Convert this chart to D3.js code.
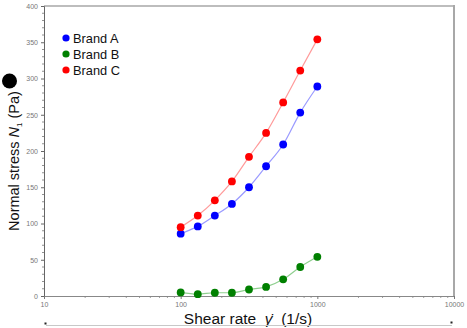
<!DOCTYPE html>
<html>
<head>
<meta charset="utf-8">
<script src="https://cdn.jsdelivr.net/npm/d3@7"></script>
<style>
  html, body { margin: 0; padding: 0; background: #fff; }
  svg { display: block; font-family: "Liberation Sans", Arial, sans-serif; }
</style>
</head>
<body>
<svg id="chart" width="467" height="328"></svg>
<script>
// Shear rate sweep (1/s), log-spaced, and first normal stress difference (Pa)
const shearRate = [100, 133.4, 177.8, 237.1, 316.2, 421.7, 562.3, 749.9, 1000];
const brandA = [86, 96, 111, 127, 150, 179, 209, 253, 289];
const brandB = [5, 2.5, 4.5, 4.5, 9, 12.5, 23, 40, 54];
const brandC = [95, 111, 132, 158, 192, 225, 267, 311, 354];
const seriesNames = ["Brand A", "Brand B", "Brand C"];
const seriesColors = ["#0000ff", "#008000", "#ff0000"];
const lineColors = ["#9a9aff", "#8fcf8f", "#ff9a9a"];
const xTicks = [10, 100, 1000, 10000];
const yTicks = [0, 50, 100, 150, 200, 250, 300, 350, 400];

const svg = d3.select("#chart");
const plotLeft = 44, plotRight = 454, plotTop = 6, plotBottom = 296;

const x = d3.scaleLog().domain([10, 10000]).range([plotLeft, plotRight]);
const y = d3.scaleLinear().domain([0, 400]).range([plotBottom, plotTop]);

// frame: top and right borders
svg.append("line").attr("x1", plotLeft).attr("x2", plotRight).attr("y1", plotTop).attr("y2", plotTop)
  .attr("stroke", "#bdbdbd").attr("stroke-width", 2);
svg.append("line").attr("x1", plotRight).attr("x2", plotRight).attr("y1", plotTop - 1).attr("y2", plotBottom)
  .attr("stroke", "#a8a8a8").attr("stroke-width", 2);

// y axis with minor ticks every 10
const yMinor = d3.range(0, 401, 10).filter(v => v % 50 !== 0);
const yAxis = svg.append("g").attr("transform", `translate(${plotLeft},0)`)
  .call(d3.axisLeft(y).tickValues(yTicks).tickSize(3).tickPadding(3));
yAxis.select(".domain").attr("stroke", "#666");
yAxis.selectAll(".tick line").attr("stroke", "#666");
yAxis.selectAll(".tick text").attr("font-size", 7).attr("fill", "#777")
  .attr("font-family", "'Liberation Sans', Arial, sans-serif");
svg.append("g").selectAll("line").data(yMinor).join("line")
  .attr("x1", plotLeft - 2).attr("x2", plotLeft).attr("y1", d => y(d)).attr("y2", d => y(d))
  .attr("stroke", "#777").attr("stroke-width", 0.8);

// x axis (log) with minor ticks 2..9 per decade
const xMinor = [];
[10, 100, 1000].forEach(d => { for (let k = 2; k <= 9; k++) xMinor.push(d * k); });
const xAxis = svg.append("g").attr("transform", `translate(0,${plotBottom})`)
  .call(d3.axisBottom(x).tickValues(xTicks).tickFormat(d3.format("d")).tickSize(3).tickPadding(3));
xAxis.select(".domain").attr("stroke", "#888");
xAxis.selectAll(".tick line").attr("stroke", "#777");
xAxis.selectAll(".tick text").attr("font-size", 7).attr("fill", "#777")
  .attr("font-family", "'Liberation Sans', Arial, sans-serif");
svg.append("g").selectAll("line").data(xMinor).join("line")
  .attr("x1", d => x(d)).attr("x2", d => x(d)).attr("y1", plotBottom).attr("y2", plotBottom + 2)
  .attr("stroke", "#888").attr("stroke-width", 0.8);

// series
const allSeries = [brandA, brandB, brandC];
const line = d3.line().x((d, i) => x(shearRate[i])).y(d => y(d)).curve(d3.curveMonotoneX);
allSeries.forEach((vals, s) => {
  svg.append("path").datum(vals).attr("d", line)
    .attr("fill", "none").attr("stroke", lineColors[s]).attr("stroke-width", 1.2);
  svg.append("g").selectAll("circle").data(vals).join("circle")
    .attr("cx", (d, i) => x(shearRate[i])).attr("cy", d => y(d)).attr("r", 3.9)
    .attr("fill", seriesColors[s]);
});

// legend
const legend = svg.append("g");
seriesNames.forEach((name, i) => {
  const ly = 38 + i * 16;
  legend.append("circle").attr("cx", 66).attr("cy", ly).attr("r", 3.6).attr("fill", seriesColors[i]);
  legend.append("text").attr("x", 73).attr("y", ly + 4.5).attr("font-size", 12.8)
    .attr("fill", "#111").text(name);
});

// axis titles
const yTitle = svg.append("text")
  .attr("transform", "translate(19,161) rotate(-90)")
  .attr("text-anchor", "middle").attr("font-size", 14.5).attr("fill", "#111");
yTitle.append("tspan").text("Normal stress ");
yTitle.append("tspan").attr("font-style", "italic").text("N");
yTitle.append("tspan").attr("font-size", 8).attr("dy", 3).text("1");
yTitle.append("tspan").attr("dy", -3).text("\u00A0(Pa)");
svg.append("circle").attr("cx", 9.5).attr("cy", 81).attr("r", 7.5).attr("fill", "#000");

const xTitle = svg.append("text").attr("x", 248).attr("y", 324)
  .attr("text-anchor", "middle").attr("font-size", 15.5).attr("fill", "#111");
xTitle.append("tspan").text("Shear rate\u00A0\u00A0");
xTitle.append("tspan").attr("font-style", "italic").text("\u03B3\u0307");
xTitle.append("tspan").text("\u00A0\u00A0(1/s)");

// bottom rule with end markers
svg.append("line").attr("x1", 46).attr("x2", 452).attr("y1", 325.5).attr("y2", 325.5)
  .attr("stroke", "#c8c8c8").attr("stroke-width", 1);
svg.append("rect").attr("x", 44.5).attr("y", 322.5).attr("width", 2).attr("height", 2).attr("fill", "#222");
svg.append("rect").attr("x", 450.5).attr("y", 321.5).attr("width", 2).attr("height", 2).attr("fill", "#222");
</script>
</body>
</html>
